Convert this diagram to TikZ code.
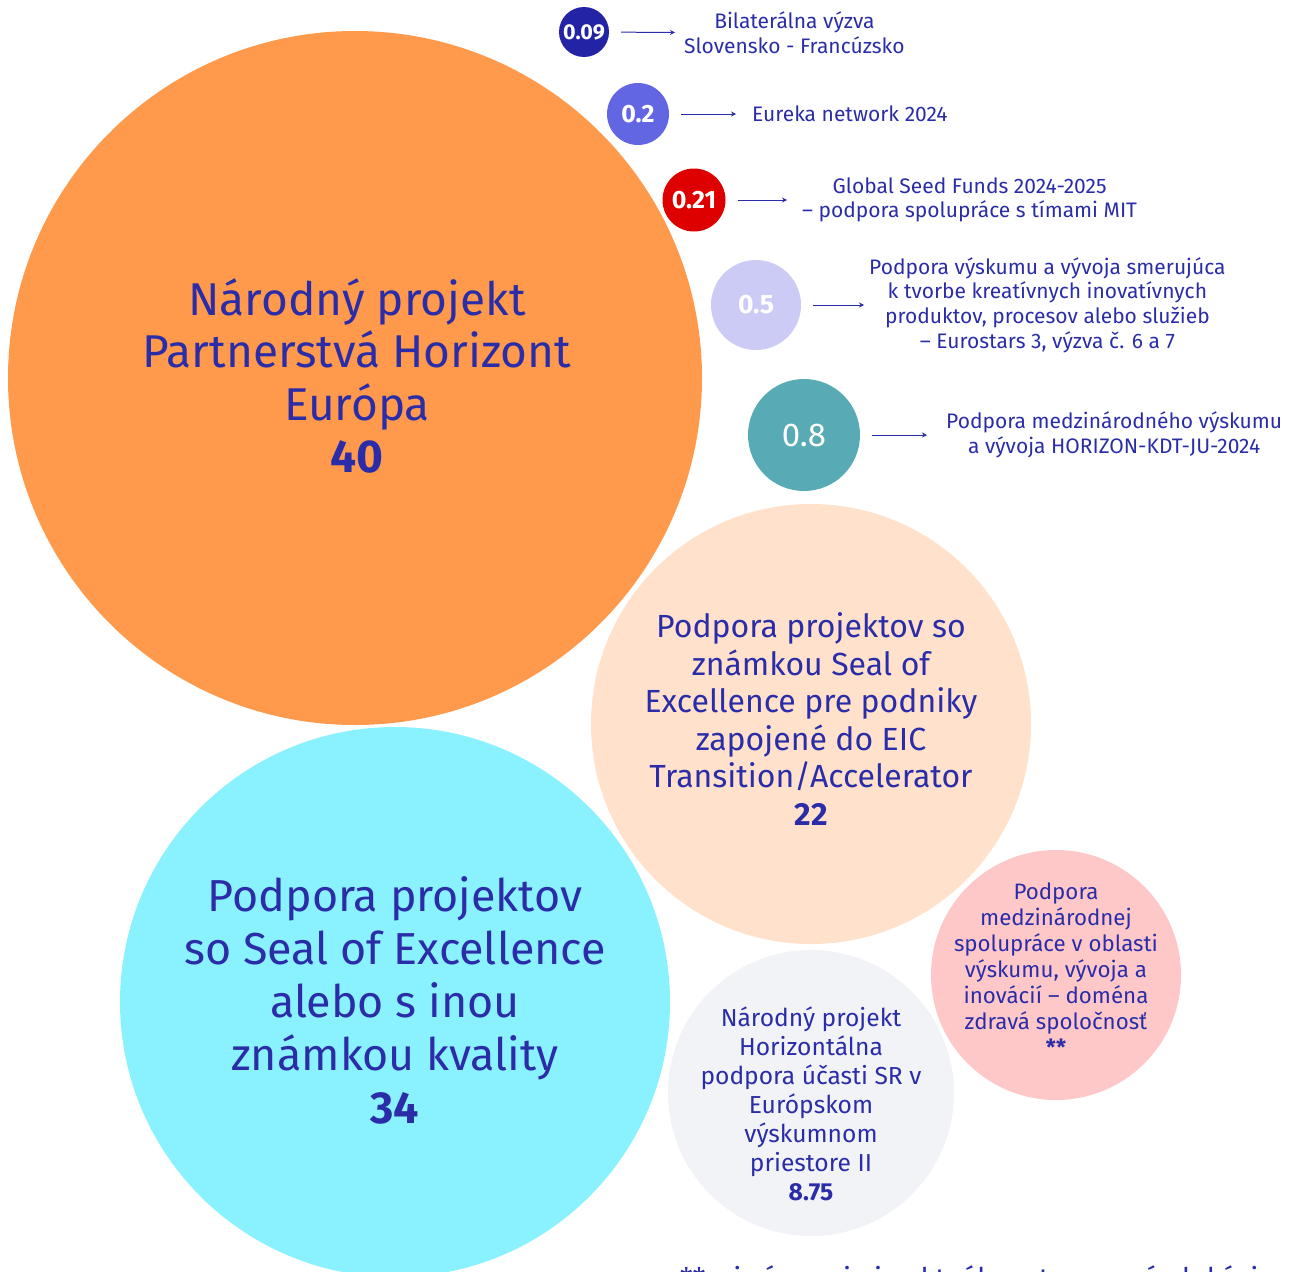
\documentclass[tikz,border=0pt]{standalone}
\usepackage{fontspec}
\setmainfont{Fira Sans}
\usetikzlibrary{arrows.meta}
\definecolor{ink}{HTML}{2B2DA8}
\definecolor{orangeb}{HTML}{FF9A4C}
\definecolor{cyanb}{HTML}{8AF1FF}
\definecolor{peachb}{HTML}{FFE1CC}
\definecolor{grayb}{HTML}{F2F3F6}
\definecolor{pinkb}{HTML}{FFC8C8}
\definecolor{tealb}{HTML}{58ABB5}
\definecolor{lavb}{HTML}{CBCBF5}
\definecolor{redb}{HTML}{DE0000}
\definecolor{blueb}{HTML}{6366E3}
\definecolor{navyb}{HTML}{2323A6}

\begin{document}
\begin{tikzpicture}[x=1pt,y=-1pt]
	\tikzstyle{bubble}=[circle,inner sep=0pt,text=white,font=\bfseries]
	\tikzstyle{txt}=[align=center,inner sep=0pt,text=ink]
	\tikzstyle{note}=[txt,anchor=west,font=\fontsize{21}{24.7}\selectfont]
	\tikzstyle{arr}=[-{Stealth[length=5pt,width=5pt]},ink,line width=1pt,shorten <=12pt]
	\useasboundingbox (0,0) rectangle (1291,1272);
	% big bubbles
	\node[bubble,fill=orangeb,minimum size=694pt](big) at (355,378) {};
	\node[bubble,fill=cyanb,minimum size=550pt](soe) at (395,1002) {};
	\node[bubble,fill=peachb,minimum size=440pt](eic) at (811,724) {};
	\node[bubble,fill=grayb,minimum size=286pt](hor) at (811,1093) {};
	\node[bubble,fill=pinkb,minimum size=250pt](zdr) at (1056,975) {};
	\node[txt,font=\fontsize{46}{52.5}\selectfont] at (357,376) {Národný projekt\\Partnerstvá Horizont\\Európa\\\textbf{40}};
	\node[txt,font=\fontsize{44.8}{53}\selectfont] at (395,1000) {Podpora projektov\\so Seal of Excellence\\alebo s inou\\známkou kvality\\\textbf{34}};
	\node[txt,font=\fontsize{32}{37.5}\selectfont] at (811,719) {Podpora projektov so\\známkou Seal of\\Excellence pre podniky\\zapojené do EIC\\Transition/Accelerator\\\textbf{22}};
	\node[txt,font=\fontsize{24.6}{29}\selectfont] at (811,1104) {Národný projekt\\Horizontálna\\podpora účasti SR v\\Európskom\\výskumnom\\priestore II\\\textbf{8.75}};
	\node[txt,font=\fontsize{22.3}{26}\selectfont] at (1056,969) {Podpora\\medzinárodnej\\spolupráce v oblasti\\výskumu, vývoja a\\inovácií -- doména\\zdravá spoločnosť\\\textbf{**}};
	% small bubbles
	\node[bubble,fill=navyb,minimum size=50pt,font=\bfseries\fontsize{21.5}{21.5}\selectfont](c09) at (584,32) {0.09};
	\node[bubble,fill=blueb,minimum size=62pt,font=\bfseries\fontsize{25}{25}\selectfont](c02) at (638,114) {0.2};
	\node[bubble,fill=redb,minimum size=63pt,font=\bfseries\fontsize{25}{25}\selectfont](c021) at (694,200) {0.21};
	\node[bubble,fill=lavb,minimum size=90pt,font=\bfseries\fontsize{26.5}{26.5}\selectfont](c05) at (756,305) {0.5};
	\node[bubble,fill=tealb,minimum size=112pt,font=\fontsize{33}{33}\selectfont](c08) at (804,435) {0.8};
	\node[note](t09) at (684,33) {Bilaterálna výzva\\Slovensko - Francúzsko};
	\node[note](t02) at (752,114) {Eureka network 2024};
	\node[note](t021) at (802,200) {Global Seed Funds 2024-2025\\-- podpora spolupráce s tímami MIT};
	\node[note](t05) at (869,305) {Podpora výskumu a vývoja smerujúca\\k tvorbe kreatívnych inovatívnych\\produktov, procesov alebo služieb\\-- Eurostars 3, výzva č. 6 a 7};
	\node[note](t08) at (946,435) {Podpora medzinárodného výskumu\\a vývoja HORIZON-KDT-JU-2024};
	\draw[arr,shorten >=9pt] (c09) -- (t09);
	\draw[arr,shorten >=16pt] (c02) -- (t02);
	\draw[arr,shorten >=15pt] (c021) -- (t021);
	\draw[arr,shorten >=5pt] (c05) -- (t05);
	\draw[arr,shorten >=19pt] (c08) -- (t08);
	% footnote, cut by the page edge
	\node[txt,anchor=base west,font=\fontsize{28.5}{28.5}\selectfont](fn) at (680,1288) {**pri výzve nie je aktuálne stanovená alokácia};
\end{tikzpicture}
\end{document}
